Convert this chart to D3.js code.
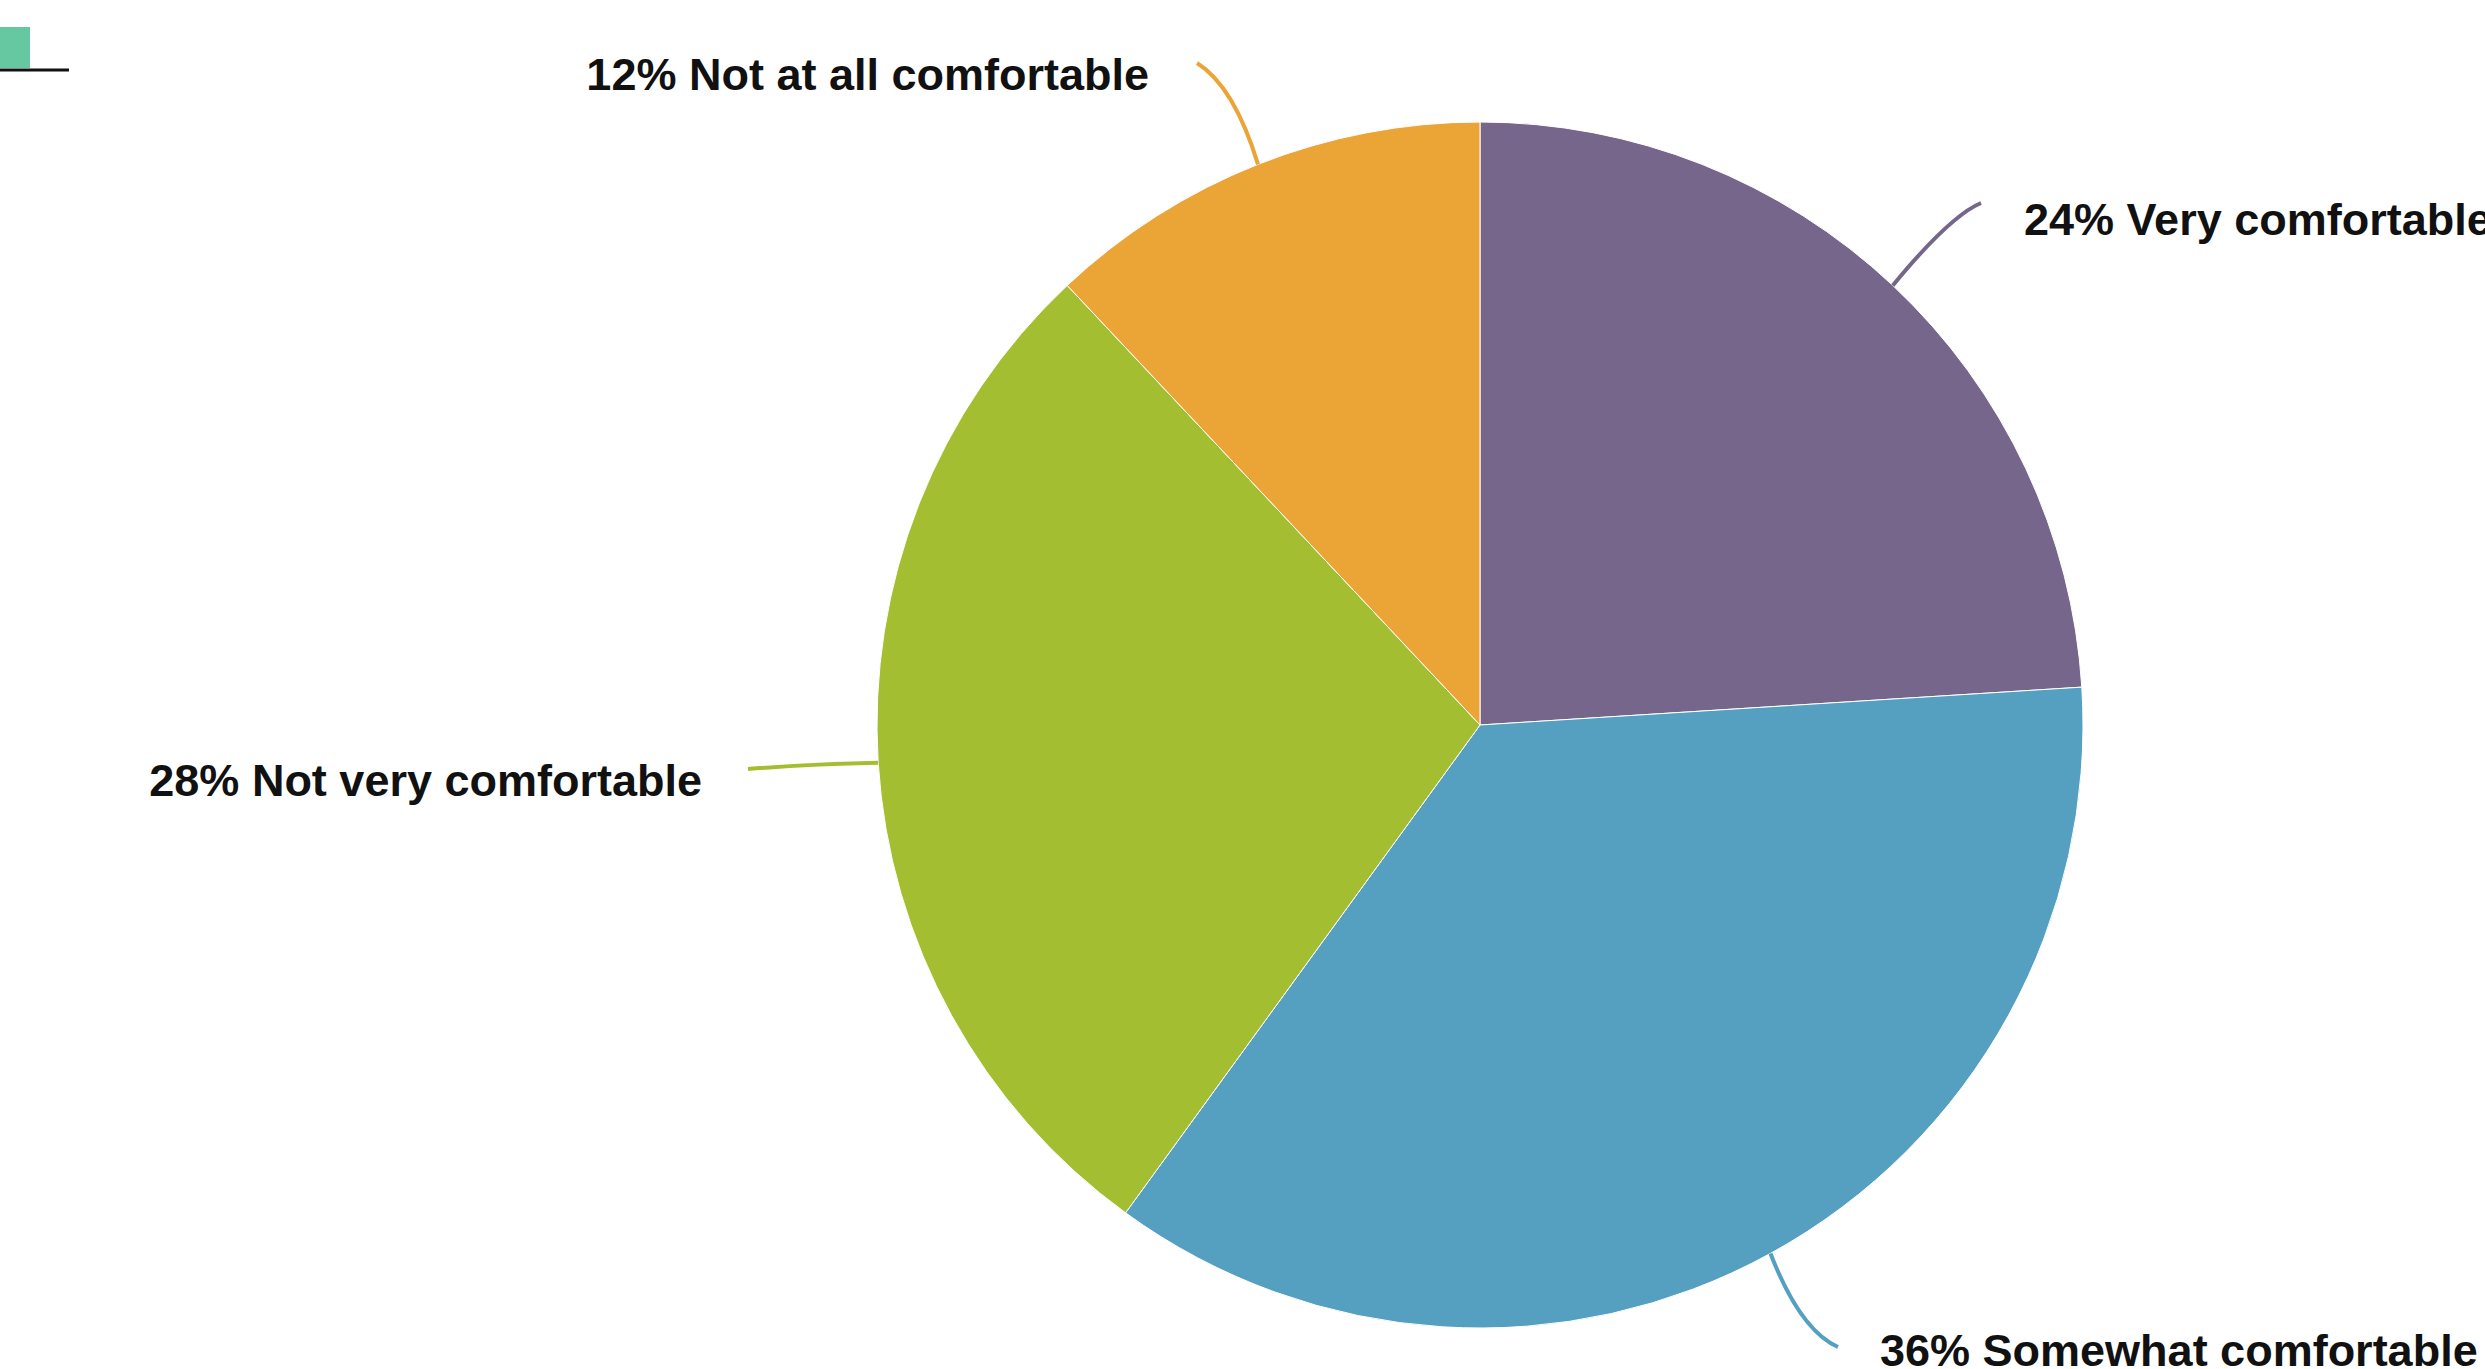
<!DOCTYPE html>
<html>
<head>
<meta charset="utf-8">
<script src="https://cdn.jsdelivr.net/npm/d3@7"></script>
<style>
  html, body { margin: 0; padding: 0; background: #fff; overflow: hidden; }
  svg { display: block; }
</style>
</head>
<body>
<div id="chart"></div>
<script>
// --- Data ---
const categories = ["Very comfortable", "Somewhat comfortable", "Not very comfortable", "Not at all comfortable"];
const shares = [24, 36, 28, 12];
const sliceColors = ["#77668c", "#55a0c1", "#a4be32", "#eba537"];

// --- Layout ---
const dimensions = { width: 2485, height: 1369 };
const center = { x: 1480, y: 725 };
const radius = 603;

// label anchor (text start) + leader line end / control, per slice
const labelLayout = [
    { tx: 2024, ty: 235, anchor: "start", end: [1981, 203], ctrl: [1950, 216] },
    { tx: 1880, ty: 1366, anchor: "start", end: [1838, 1347], ctrl: [1800, 1330] },
    { tx: 702, ty: 796, anchor: "end", end: [748, 769], ctrl: [810, 764] },
    { tx: 1149, ty: 90, anchor: "end", end: [1197, 63], ctrl: [1234, 86] }
];

const data = categories.map((c, i) => ({ label: c, value: shares[i], color: sliceColors[i], layout: labelLayout[i] }));

const svg = d3.select("#chart").append("svg")
    .attr("width", dimensions.width)
    .attr("height", dimensions.height);

// stray legend swatch in the corner
svg.append("rect").attr("x", 0).attr("y", 27).attr("width", 30).attr("height", 41).attr("fill", "#66c8a0");
svg.append("line").attr("x1", 0).attr("x2", 69).attr("y1", 70).attr("y2", 70)
    .attr("stroke", "#111").attr("stroke-width", 3);

const pie = d3.pie().value(d => d.value).sort(null);
const arc = d3.arc().innerRadius(0).outerRadius(radius);
const arcs = pie(data);

const g = svg.append("g").attr("transform", `translate(${center.x}, ${center.y})`);

g.selectAll("path.slice")
    .data(arcs)
    .enter()
    .append("path")
    .attr("class", "slice")
    .attr("d", arc)
    .attr("fill", d => d.data.color)
    .attr("stroke", "#fff")
    .attr("stroke-width", 1);

// leader lines from the mid-angle point on the rim
arcs.forEach(a => {
    const mid = (a.startAngle + a.endAngle) / 2;
    const sx = center.x + radius * Math.sin(mid);
    const sy = center.y - radius * Math.cos(mid);
    const L = a.data.layout;
    const p = d3.path();
    p.moveTo(sx, sy);
    p.quadraticCurveTo(L.ctrl[0], L.ctrl[1], L.end[0], L.end[1]);
    svg.append("path")
        .attr("d", p.toString())
        .attr("fill", "none")
        .attr("stroke", a.data.color)
        .attr("stroke-width", 4);

    svg.append("text")
        .attr("x", L.tx)
        .attr("y", L.ty)
        .attr("text-anchor", L.anchor)
        .style("font-family", "'Liberation Sans', Arial, Helvetica, sans-serif")
        .style("font-weight", "bold")
        .style("font-size", "45px")
        .attr("fill", "#111")
        .text(`${a.data.value}% ${a.data.label}`);
});
</script>
</body>
</html>
